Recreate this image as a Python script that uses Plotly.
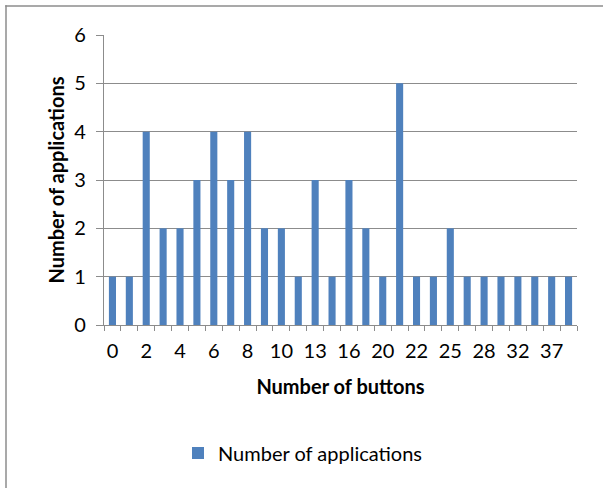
import plotly.graph_objects as go

# Data
buttons = ["0", "1", "2", "3", "4", "5", "6", "7", "8", "9", "10", "12", "13", "14",
           "16", "18", "20", "21", "22", "24", "25", "27", "28", "30", "32", "35", "37", "40"]
applications = [1, 1, 4, 2, 2, 3, 4, 3, 4, 2, 2, 1, 3, 1,
                3, 2, 1, 5, 1, 1, 2, 1, 1, 1, 1, 1, 1, 1]
tick_labels = [b if i % 2 == 0 else "" for i, b in enumerate(buttons)]

W, H = 603, 488
L, R, T, B = 104, 577, 35, 325

FONT = "Lato"
FS = 20
GRID = "#8c8c8c"

fig = go.Figure()
fig.add_trace(go.Bar(
    x=buttons, y=applications, name="Number of applications",
    marker=dict(color="#4f81bd", line=dict(width=0)),
))

def px_x(p):
    return (p - L) / (R - L)

def px_y(p):
    return (B - p) / (B - T)

border = dict(color="#8c8c8c", width=1.5)

fig.update_layout(
    width=W, height=H,
    margin=dict(l=L, r=W - R, t=T, b=H - B, pad=0),
    paper_bgcolor="white", plot_bgcolor="white",
    font=dict(family=FONT, size=FS, color="#000000"),
    bargap=0.58,
    showlegend=True,
    legend=dict(orientation="h", x=px_x(178), xanchor="left", y=px_y(453), yanchor="middle",
                font=dict(family=FONT, size=FS), itemwidth=30, bgcolor="rgba(0,0,0,0)"),
    xaxis=dict(
        type="category", categoryorder="array", categoryarray=buttons,
        tickmode="array", tickvals=buttons, ticktext=tick_labels,
        tickson="boundaries", ticks="outside", ticklen=5, tickcolor=GRID, tickwidth=1.3,
        ticklabelstandoff=8,
        showline=True, linecolor=GRID, linewidth=1.3, showgrid=False,
        tickfont=dict(family=FONT, size=FS), tickangle=0,
        title=dict(text="<b>Number of buttons</b>", font=dict(family=FONT, size=FS), standoff=18),
    ),
    yaxis=dict(
        range=[0, 6], dtick=1, tick0=0,
        ticks="outside", ticklen=7, tickcolor=GRID, tickwidth=1.3,
        ticklabelstandoff=6,
        showline=True, linecolor=GRID, linewidth=1.3,
        showgrid=True, gridcolor=GRID, gridwidth=1.3, zeroline=False,
        tickfont=dict(family=FONT, size=FS),
        title=dict(text="<b>Number of applications</b>", font=dict(family=FONT, size=FS), standoff=4),
    ),
    shapes=[
        dict(type="line", xref="paper", yref="paper",
             x0=px_x(6), x1=px_x(6), y0=px_y(540), y1=px_y(5.25), line=border, layer="below"),
        dict(type="line", xref="paper", yref="paper",
             x0=px_x(5.25), x1=px_x(660), y0=px_y(6), y1=px_y(6), line=border, layer="below"),
    ],
)

fig.write_html("out.html", config={"displayModeBar": False},
               post_script="document.body.style.margin='0';document.body.style.overflow='hidden';")
